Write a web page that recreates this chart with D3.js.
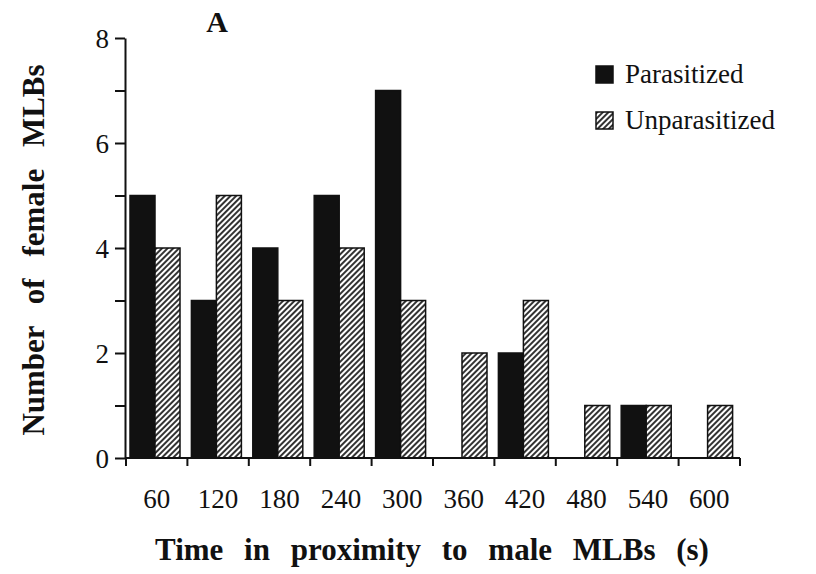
<!DOCTYPE html>
<html>
<head>
<meta charset="utf-8">
<script src="https://cdn.jsdelivr.net/npm/d3@7"></script>
<style>
  body { margin: 0; background: #fff; }
  svg { display: block; }
  svg text { font-family: "Liberation Serif", "Times New Roman", "DejaVu Serif", serif; fill: #111; }
</style>
</head>
<body>
<div id="chart"></div>
<script>
const categories = ['60', '120', '180', '240', '300', '360', '420', '480', '540', '600'];
const parasitized = [5, 3, 4, 5, 7, 0, 2, 0, 1, 0];
const unparasitized = [4, 5, 3, 4, 3, 2, 3, 1, 1, 1];
const seriesNames = ['Parasitized', 'Unparasitized'];
const yTicks = [0, 1, 2, 3, 4, 5, 6, 7, 8];

const width = 816,
  height = 574;
const serif = '"Liberation Serif", "Times New Roman", serif';

const svg = d3.select('#chart')
  .append('svg')
  .attr('width', width)
  .attr('height', height)
  .attr('font-family', serif);

//hatch for the unparasitized bars
const defs = svg.append('defs');
defs.append('pattern')
  .attr('id', 'hatch')
  .attr('patternUnits', 'userSpaceOnUse')
  .attr('width', 4)
  .attr('height', 4)
  .attr('patternTransform', 'rotate(45)')
  .call(function (p) {
    p.append('rect').attr('width', 4).attr('height', 4).attr('fill', '#fff');
    p.append('line')
      .attr('x1', 1).attr('y1', 0).attr('x2', 1).attr('y2', 4)
      .attr('stroke', '#333').attr('stroke-width', 2);
  });

const x = d3.scaleBand()
  .domain(categories)
  .range([126, 740])
  .padding(0);

const y = d3.scaleLinear()
  .domain([0, 8])
  .range([458, 38]);

const inner = d3.scaleBand()
  .domain(seriesNames)
  .range([4, 54]);

const fills = {
  Parasitized: '#111',
  Unparasitized: 'url(#hatch)'
};

const rows = categories.map(function (c, i) {
  return { cat: c, values: [
    { key: 'Parasitized', value: parasitized[i] },
    { key: 'Unparasitized', value: unparasitized[i] }
  ] };
});

//bars
const groups = svg.append('g')
  .selectAll('g')
  .data(rows)
  .enter().append('g')
  .attr('transform', function (d) {
    return 'translate(' + x(d.cat) + ',0)';
  });

groups.selectAll('rect')
  .data(function (d) {
    return d.values.filter(function (v) { return v.value > 0; });
  })
  .enter().append('rect')
  .attr('x', function (d) { return inner(d.key); })
  .attr('y', function (d) { return y(d.value); })
  .attr('width', inner.bandwidth())
  .attr('height', function (d) { return y(0) - y(d.value); })
  .attr('fill', function (d) { return fills[d.key]; })
  .attr('stroke', '#111')
  .attr('stroke-width', 1.5);

//y axis
const yAxis = svg.append('g')
  .attr('transform', 'translate(125,0)')
  .call(d3.axisLeft(y)
    .tickValues(yTicks)
    .tickSize(10)
    .tickSizeOuter(0)
    .tickPadding(6)
    .tickFormat(function (d) { return d % 2 === 0 ? d : ''; }));

yAxis.attr('font-family', serif);
yAxis.selectAll('path, line').attr('stroke', '#111').attr('stroke-width', 2);
yAxis.selectAll('text')
  .style('font-family', serif)
  .style('font-size', '27px')
  .attr('fill', '#111')
  .attr('dy', '0.34em');

//x axis: ticks on the group boundaries
const boundaries = categories.map(function (c) { return x(c); }).concat([x.range()[1]]);
const xAxis = svg.append('g')
  .attr('transform', 'translate(0,' + y(0) + ')');

xAxis.append('line')
  .attr('x1', 125).attr('x2', x.range()[1])
  .attr('stroke', '#111').attr('stroke-width', 2);

xAxis.selectAll('.xtick')
  .data(boundaries)
  .enter().append('line')
  .attr('class', 'xtick')
  .attr('x1', function (d) { return d; })
  .attr('x2', function (d) { return d; })
  .attr('y1', 0).attr('y2', 8)
  .attr('stroke', '#111').attr('stroke-width', 2);

xAxis.selectAll('.xlabel')
  .data(categories)
  .enter().append('text')
  .attr('class', 'xlabel')
  .attr('x', function (d) { return x(d) + x.bandwidth() / 2; })
  .attr('y', 50)
  .attr('text-anchor', 'middle')
  .style('font-size', '27px')
  .text(function (d) { return d; });

//titles
svg.append('text')
  .attr('x', 432)
  .attr('y', 560)
  .attr('text-anchor', 'middle')
  .style('font-size', '31px')
  .style('font-weight', 'bold')
  .style('word-spacing', '13px')
  .text('Time in proximity to male MLBs (s)');

svg.append('text')
  .attr('transform', 'translate(44,250) rotate(-90)')
  .attr('text-anchor', 'middle')
  .style('font-size', '31px')
  .style('font-weight', 'bold')
  .style('word-spacing', '14px')
  .text('Number of female MLBs');

svg.append('text')
  .attr('x', 217)
  .attr('y', 32)
  .attr('text-anchor', 'middle')
  .style('font-size', '30px')
  .style('font-weight', 'bold')
  .text('A');

//legend
const legend = svg.append('g')
  .attr('transform', 'translate(596,66)')
  .selectAll('g')
  .data(seriesNames)
  .enter().append('g')
  .attr('transform', function (d, i) {
    return 'translate(0,' + i * 46 + ')';
  });

legend.append('rect')
  .attr('width', 17)
  .attr('height', 17)
  .attr('fill', function (d) { return fills[d]; })
  .attr('stroke', '#111')
  .attr('stroke-width', 1.5);

legend.append('text')
  .attr('x', 29)
  .attr('y', 17)
  .style('font-size', '27px')
  .text(function (d) { return d; });
</script>
</body>
</html>
